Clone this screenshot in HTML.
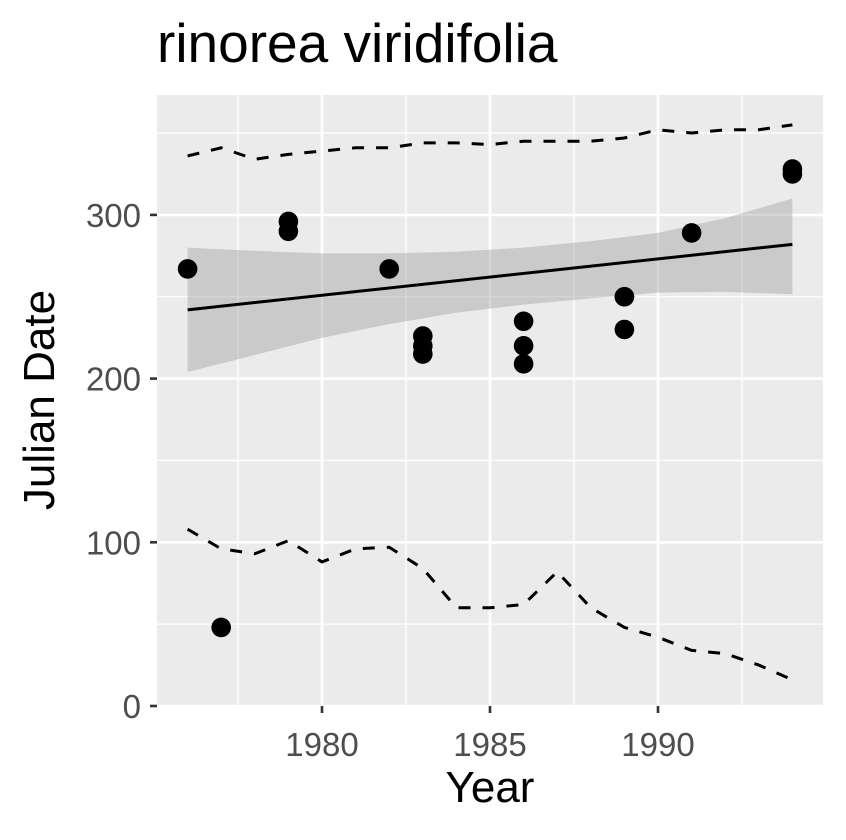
<!DOCTYPE html>
<html><head><meta charset="utf-8"><style>
body{margin:0;background:#fff;}
svg text{font-family:"Liberation Sans",Arial,sans-serif;}
</style></head><body>
<svg id="chart" width="846" height="835" xmlns="http://www.w3.org/2000/svg">
<rect width="846" height="835" fill="#fff"/>
<text x="157" y="62" font-size="55" fill="#000">rinorea viridifolia</text>
<rect x="157" y="95" width="666" height="611" fill="#ebebeb"/>
<g id="grid"></g><g id="ribbon"></g><g id="lines"></g><g id="pts"></g><g id="axes"></g>
<text x="490" y="802" font-size="44" text-anchor="middle" fill="#000">Year</text>
<text transform="translate(54,400) rotate(-90)" font-size="44" text-anchor="middle" fill="#000">Julian Date</text>
</svg>
<script>
const ptYears=[1976,1977,1979,1979,1982,1983,1983,1983,1986,1986,1986,1989,1989,1989,1991,1994,1994];
const ptValues=[267,48,296,290,267,226,220,215,235,220,209,250,250,230,289,328,325];
const fitYears=[1976,1994];
const fitValues=[242,282];
const bandYears=[1976,1978,1980,1982,1984,1986,1988,1990,1992,1994];
const bandUpper=[280,278,276.5,276.5,277.5,280,284,289,298,310];
const bandLower=[204,214.4,224.9,233.3,240.3,245.2,249,252.5,253,251.5];
const qYears=[1976,1977,1978,1979,1980,1981,1982,1983,1984,1985,1986,1987,1988,1989,1990,1991,1992,1993,1994];
const upperQ=[336,341,334,337,339,341,341,344,344,343,345,345,345,347,352,350,352,352,355];
const lowerQ=[108,96,93,101,88,96,97,84,60,60,62,82,60,48,42,34,32,25,16];
const xTicks=[1980,1985,1990];
const yTicks=[0,100,200,300];
const X=v=>322+(v-1980)*33.6;
const Y=v=>706-v*1.637;
const NS='http://www.w3.org/2000/svg';
function mk(tag,parent,attrs){const e=document.createElementNS(NS,tag);for(const k in attrs)e.setAttribute(k,attrs[k]);document.getElementById(parent).appendChild(e);return e;}
[1977.5,1982.5,1987.5,1992.5].forEach(v=>{const e=mk('line','grid',{x1:X(v),x2:X(v),y1:95,y2:706,stroke:'#fff','stroke-width':1.3});

});
[50,150,250,350].forEach(v=>{const e=mk('line','grid',{x1:157,x2:823,y1:Y(v),y2:Y(v),stroke:'#fff','stroke-width':1.3});

});
xTicks.forEach(v=>{const e=mk('line','grid',{x1:X(v),x2:X(v),y1:95,y2:706,stroke:'#fff','stroke-width':2.6});


const t=mk('line','axes',{x1:X(v),x2:X(v),y1:706,y2:713,stroke:'#333','stroke-width':2.6});


const l=mk('text','axes',{x:X(v),y:756,'font-size':33,fill:'#4d4d4d','text-anchor':'middle'});l.textContent=v;

});
yTicks.forEach(v=>{const e=mk('line','grid',{x1:157,x2:823,y1:Y(v),y2:Y(v),stroke:'#fff','stroke-width':2.6});


const t=mk('line','axes',{x1:150,x2:157,y1:Y(v),y2:Y(v),stroke:'#333','stroke-width':2.6});


const l=mk('text','axes',{x:141,y:Y(v)+12,'font-size':33,fill:'#4d4d4d','text-anchor':'end'});l.textContent=v;

});
let d=bandYears.map((y,i)=>(i?'L':'M')+X(y)+','+Y(bandUpper[i])).join('');
for(let i=bandYears.length-1;i>=0;i--)d+='L'+X(bandYears[i])+','+Y(bandLower[i]);
const rb=mk('path','ribbon',{d:d+'Z',fill:'#999',opacity:0.4});


const fl=mk('path','lines',{d:fitYears.map((y,i)=>(i?'L':'M')+X(y)+','+Y(fitValues[i])).join(''),stroke:'#000','stroke-width':3,fill:'none'});


[[upperQ,'upper-quantile-line'],[lowerQ,'lower-quantile-line']].forEach(([arr,n])=>{
const e=mk('path','lines',{d:qYears.map((y,i)=>(i?'L':'M')+X(y)+','+Y(arr[i])).join(''),stroke:'#000','stroke-width':3,fill:'none','stroke-dasharray':'12 12'});

});
ptYears.forEach((y,i)=>{const c=mk('circle','pts',{cx:X(y),cy:Y(ptValues[i]),r:9.8,fill:'#000'});

});
</script>
</body></html>
